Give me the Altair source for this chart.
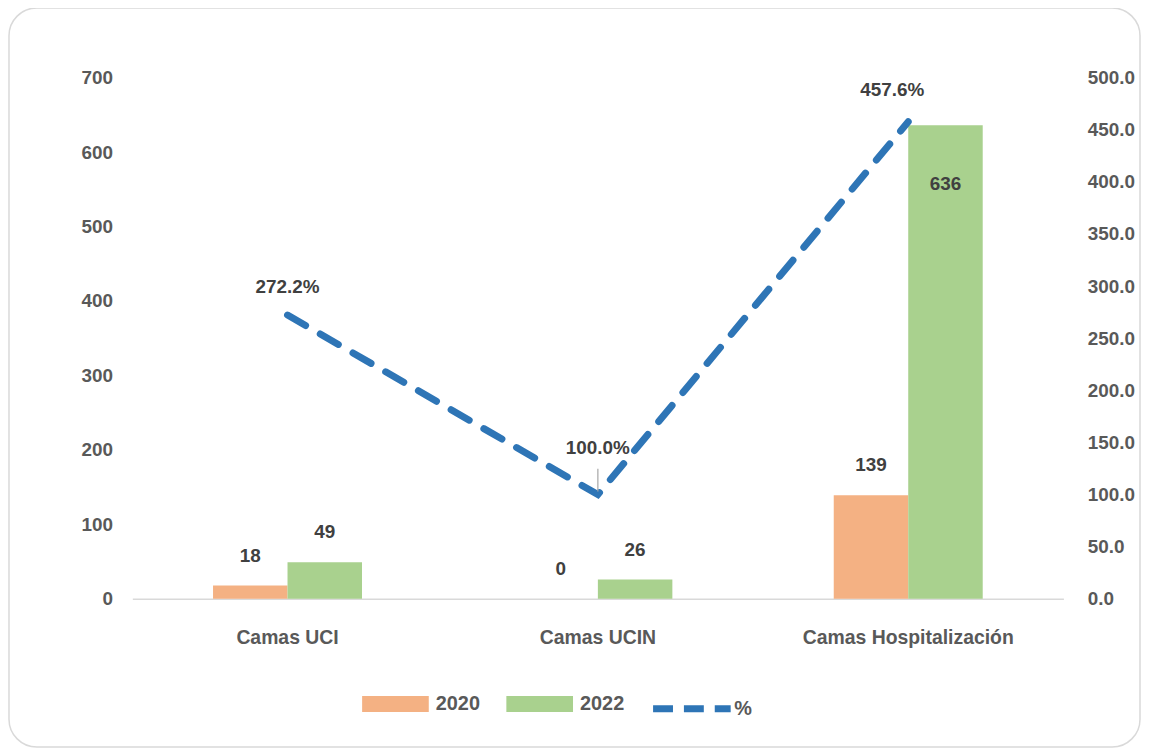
import altair as alt
import pandas as pd

categories = ["Camas UCI", "Camas UCIN", "Camas Hospitalización"]
years = ["2020", "2022"]
beds_2020 = [18, 0, 139]
beds_2022 = [49, 26, 636]
pct_values = [272.2, 100.0, 457.6]
pct_labels = ["272.2%", "100.0%", "457.6%"]
left_ticks = [0, 100, 200, 300, 400, 500, 600, 700]
right_ticks = [0, 50, 100, 150, 200, 250, 300, 350, 400, 450, 500]
bar_colors = ["#F4B183", "#A9D18E"]
line_color = "#2E75B6"

bars_df = pd.DataFrame({
    "cat": categories * 2,
    "year": [years[0]] * 3 + [years[1]] * 3,
    "val": beds_2020 + beds_2022,
})
line_df = pd.DataFrame({
    "cat": categories,
    "pct": pct_values,
    "label": pct_labels,
    "series": ["%"] * 3,
})

FONT = "Liberation Sans"
AX_COL = "#595959"
LBL_COL = "#404040"
W, H = 936, 524

x_enc = alt.X(
    "cat:N", sort=categories,
    scale=alt.Scale(paddingInner=0.52, paddingOuter=0.26),
    axis=alt.Axis(title=None, labelAngle=0, ticks=False, domainColor="#D9D9D9",
                  domainWidth=1.5, labelPadding=30, labelFontSize=19.5, labelFont=FONT,
                  labelFontWeight="bold", labelColor=AX_COL, grid=False, labelLimit=500),
)
xoff = alt.XOffset("year:N", sort=years, scale=alt.Scale(paddingInner=0, paddingOuter=0))

y_left = alt.Y(
    "val:Q", scale=alt.Scale(domain=[0, 700], nice=False),
    axis=alt.Axis(title=None, values=left_ticks, ticks=False, domain=False, grid=False,
                  labelPadding=20, labelFontSize=19, labelFont=FONT, labelFontWeight="bold",
                  labelColor=AX_COL, orient="left"),
)
y_right = alt.Y(
    "pct:Q", scale=alt.Scale(domain=[0, 500], nice=False),
    axis=alt.Axis(title=None, values=right_ticks, format=".1f", ticks=False, domain=False,
                  grid=False, labelPadding=24, labelFontSize=19, labelFont=FONT,
                  labelFontWeight="bold", labelColor=AX_COL, orient="right"),
)

bars = alt.Chart(bars_df).mark_bar().encode(
    x=x_enc, xOffset=xoff, y=y_left,
    fill=alt.Fill("year:N", sort=years, scale=alt.Scale(domain=years, range=bar_colors),
                  legend=alt.Legend(title=None, orient="none", legendX=231, legendY=596,
                                    direction="horizontal", symbolType="M-1,-0.24H1V0.24H-1Z",
                                    symbolSize=4489, symbolStrokeWidth=0, labelFont=FONT,
                                    labelFontSize=20, labelFontWeight="bold", labelColor=AX_COL,
                                    labelOffset=7, columnPadding=26, padding=0)),
)

txt_style = dict(font=FONT, fontSize=19, fontWeight="bold", color=LBL_COL, baseline="middle")

bar_text_out = alt.Chart(bars_df).transform_filter("datum.val < 600").mark_text(dy=-30, **txt_style).encode(
    x=x_enc, xOffset=xoff, y=y_left, text="val:Q")
bar_text_in = alt.Chart(bars_df).transform_filter("datum.val >= 600").mark_text(dy=59, **txt_style).encode(
    x=x_enc, xOffset=xoff, y=y_left, text="val:Q")

left = alt.layer(bars, bar_text_out, bar_text_in)

line = alt.Chart(line_df).mark_line(strokeWidth=7, strokeDash=[21, 17], strokeCap="round").encode(
    x=x_enc, y=y_right,
    stroke=alt.Stroke("series:N", scale=alt.Scale(domain=["%"], range=[line_color]),
                      legend=alt.Legend(title=None, orient="none", legendX=520, legendY=592,
                                        symbolType="stroke", symbolSize=6084, symbolStrokeWidth=7,
                                        symbolDash=[20, 11], labelFont=FONT, labelFontSize=20,
                                        labelFontWeight="bold", labelColor=AX_COL, labelOffset=0,
                                        padding=0)),
)

def pct_text(cat, dx, dy):
    return alt.Chart(line_df).transform_filter(alt.datum.cat == cat).mark_text(
        dx=dx, dy=dy, **txt_style).encode(x=x_enc, y=y_right, text="label:N")

leader = alt.Chart(line_df).transform_filter(alt.datum.cat == categories[1]).mark_rule(
    color="#A6A6A6", strokeWidth=1.2, yOffset=-3, y2Offset=-26).encode(
    x=x_enc, y=y_right, y2=alt.Y2("pct:Q"))

right = alt.layer(
    line,
    leader,
    pct_text(categories[0], 0, -28),
    pct_text(categories[1], 0, -47),
    pct_text(categories[2], -16, -32),
)

frame = alt.Chart(pd.DataFrame({"k": [0]})).mark_rect(
    fillOpacity=0, stroke="#D9D9D9", strokeWidth=1.5, cornerRadius=28).encode(
    x=alt.value(-124), x2=alt.value(1013), y=alt.value(-70), y2=alt.value(673))

chart = alt.layer(frame, left, right).resolve_scale(
    y="independent", fill="independent", stroke="independent"
).properties(
    width=W, height=H,
    autosize=alt.AutoSizeParams(type="none"),
    padding={"left": 125, "top": 68, "right": 78, "bottom": 150},
    background="white",
).configure_view(strokeWidth=0)

chart.save("out.html", embed_options={"renderer": "svg", "actions": False})
